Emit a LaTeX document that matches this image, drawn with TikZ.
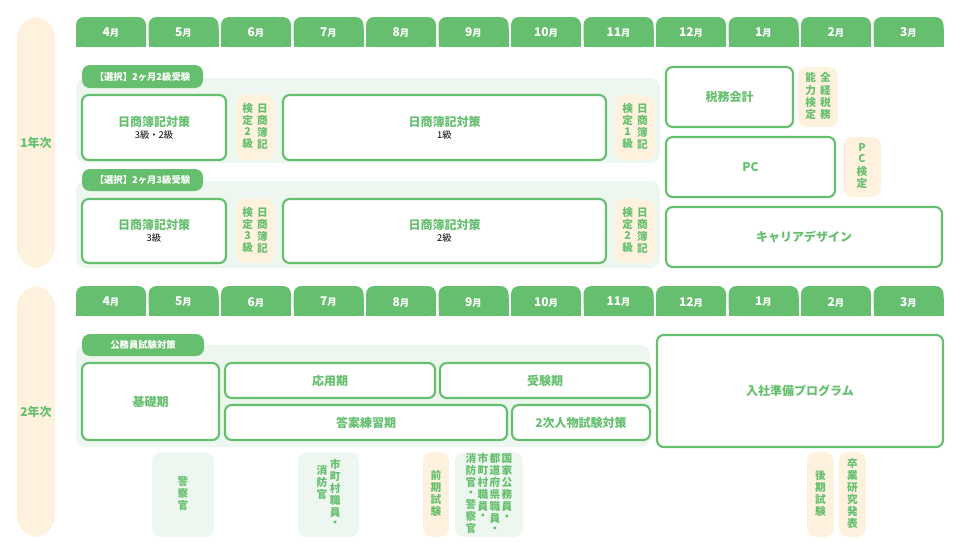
\documentclass[tikz,border=0pt]{standalone}
\usepackage{fontspec}
\setmainfont{Noto Sans CJK JP}
\definecolor{mg}{HTML}{66BF6F}
\definecolor{lg}{HTML}{EEF7EF}
\definecolor{cr}{HTML}{FEF2DE}
\newcommand\vc[1]{{\renewcommand\arraystretch{0.78}\begin{tabular}[t]{@{}c@{}}#1\end{tabular}}}
\newcommand\R[7]{\node[#6, minimum width={(#4-#2)*0.75pt}, minimum height={(#5-#3)*0.75pt}] (#1) at ({(#2+#4)/2},{(#3+#5)/2}) {#7};}
\tikzset{
 wbox/.style={draw=mg, line width=1.6pt, fill=white, rounded corners=5pt, inner sep=0pt, align=center, text=mg, font=\bfseries\small},
 grp/.style={fill=lg, rounded corners=7pt, inner sep=0pt},
 crm/.style={fill=cr, rounded corners=7pt, inner sep=0pt, text=mg, font=\bfseries\footnotesize},
 lgb/.style={fill=lg, rounded corners=7pt, inner sep=0pt, text=mg, font=\bfseries\footnotesize},
 lab/.style={fill=mg, rounded corners=6pt, inner sep=0pt, text=white, font=\bfseries\scriptsize},
 yr/.style={fill=cr, rounded corners=16pt, inner sep=0pt, text=mg, font=\bfseries\small},
 sub/.style={text=black, font=\scriptsize}
}
\begin{document}
\begin{tikzpicture}[x=0.75pt,y=-0.75pt]
\useasboundingbox (0,0) rectangle (961,554);
% year bars
\R{y1}{17}{17}{55}{268}{yr}{1年次}
\R{y2}{17}{286}{55}{537}{yr}{2年次}
% month tabs
\foreach \m [count=\i from 0] in {4,5,6,7,8,9,10,11,12,1,2,3} {
  \foreach \yy in {17,286} {
    \pgfmathsetmacro\xa{76+\i*72.5}
    \pgfmathsetmacro\xb{\xa+70}
    \fill[mg, rounded corners=6pt] (\xa,\yy) rectangle (\xb,\yy+30);
    \fill[mg] (\xa,\yy+12) rectangle (\xb,\yy+30);
    \node[text=white, font=\bfseries\small] (m\m-\yy) at ({\xa+35},\yy+16) {\m\scriptsize 月};
  }
}
% year 1 groups
\R{g1}{76}{78}{660}{163}{grp}{}
\R{g1l}{82}{65}{203}{88}{lab}{【選択】2ヶ月2級受験}
\R{a1}{82}{95}{226}{160}{wbox}{日商簿記対策\\[-2pt]{\normalfont\scriptsize\color{black}3級・2級}}
\R{a2}{236}{95}{274}{160}{crm}{\vc{検\\定\\2\\級}\hspace{3pt}\vc{日\\商\\簿\\記}}
\R{a3}{283}{95}{606}{160}{wbox}{日商簿記対策\\[-2pt]{\normalfont\scriptsize\color{black}1級}}
\R{a4}{615}{95}{655}{160}{crm}{\vc{検\\定\\1\\級}\hspace{3pt}\vc{日\\商\\簿\\記}}
\R{g2}{76}{181}{660}{268}{grp}{}
\R{g2l}{82}{169}{203}{191}{lab}{【選択】2ヶ月3級受験}
\R{b1}{82}{199}{226}{263}{wbox}{日商簿記対策\\[-2pt]{\normalfont\scriptsize\color{black}3級}}
\R{b2}{236}{199}{274}{263}{crm}{\vc{検\\定\\3\\級}\hspace{3pt}\vc{日\\商\\簿\\記}}
\R{b3}{283}{199}{606}{263}{wbox}{日商簿記対策\\[-2pt]{\normalfont\scriptsize\color{black}2級}}
\R{b4}{615}{199}{655}{263}{crm}{\vc{検\\定\\2\\級}\hspace{3pt}\vc{日\\商\\簿\\記}}
% right
\R{c1}{666}{67}{793}{127}{wbox}{税務会計}
\R{c2}{798}{67}{838}{127}{crm}{\vc{能\\力\\検\\定}\hspace{3pt}\vc{全\\経\\税\\務}}
\R{c3}{666}{137}{835}{197}{wbox}{PC}
\R{c4}{843}{137}{881}{197}{crm}{\vc{P\\C\\検\\定}}
\R{c5}{666}{207}{942}{267}{wbox}{キャリアデザイン}
% year 2
\R{g3}{76}{345}{650}{447}{grp}{}
\R{g3l}{82}{334}{204}{356}{lab}{公務員試験対策}
\R{d1}{82}{363}{219}{440}{wbox}{基礎期}
\R{d2}{225}{363}{435}{398}{wbox}{応用期}
\R{d3}{440}{363}{650}{398}{wbox}{受験期}
\R{d4}{225}{405}{507}{440}{wbox}{答案練習期}
\R{d5}{512}{405}{650}{440}{wbox}{2次人物試験対策}
\R{d6}{657}{335}{943}{447}{wbox}{入社準備プログラム}
% bottom
\R{e1}{152}{452}{214}{537}{lgb}{\vc{警\\察\\官}}
\R{e2}{298}{452}{359}{537}{lgb}{\raisebox{4pt}{\vc{消\\防\\官}}\hspace{2pt}\raisebox{8pt}{\vc{市\\町\\村\\職\\員\\・}}}
\R{e3}{423}{452}{449}{537}{crm}{\vc{前\\期\\試\\験}}
\R{e4}{455}{452}{523}{537}{lgb}{\vc{消\\防\\官\\・\\警\\察\\官}\hspace{1pt}\vc{市\\町\\村\\職\\員\\・}\hspace{1pt}\vc{都\\道\\府\\県\\職\\員\\・}\hspace{1pt}\vc{国\\家\\公\\務\\員\\・}}
\R{e5}{807}{452}{834}{537}{crm}{\vc{後\\期\\試\\験}}
\R{e6}{839}{452}{866}{537}{crm}{\vc{卒\\業\\研\\究\\発\\表}}
\end{tikzpicture}
\end{document}
